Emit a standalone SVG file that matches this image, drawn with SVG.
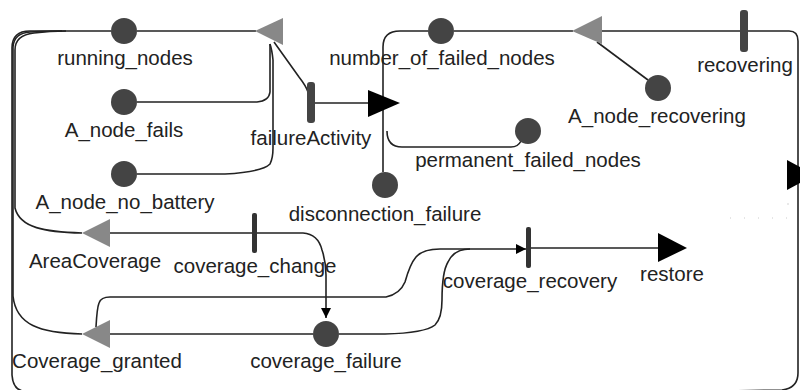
<svg xmlns="http://www.w3.org/2000/svg" width="800" height="390" viewBox="0 0 800 390">
<style>
.bg{fill:#fff}
.c{fill:none;stroke:#222;stroke-width:1.6}
.p{fill:#444}
.t{fill:#444}
.td{fill:#333}
.g{fill:#888}
.b{fill:#000}
text{font-family:"Liberation Sans",Arial,sans-serif;font-size:20.5px;fill:#222;text-anchor:middle}
</style>
<defs>
<marker id="ah" viewBox="0 0 10 10" refX="10" refY="5" markerWidth="10" markerHeight="10" markerUnits="userSpaceOnUse" orient="auto">
<path d="M0,0 L10,5 L0,10 Z" fill="#000"/>
</marker>
</defs>
<rect class="bg" x="0" y="0" width="800" height="390"/>
<g id="connectors">
<!-- outer loop: recovering -> around -> running_nodes -->
<path class="c" d="M749,31 H789 Q798,31 798,41 V373 Q798,388 782,390 L716,391.2 H24 Q13,390 12,375 V48 Q12,31 30,31 H111"/>
<!-- AreaCoverage to top-left -->
<path class="c" d="M82,233 C45,232 20,228 15,208 V50 Q15,35 34,33 Q50,31 66,31"/>
<!-- Coverage_granted to top-left -->
<path class="c" d="M82,334 C40,333 16,325 13,296 V47 Q14,33 30,32 Q48,31 62,31"/>
<!-- running_nodes -> gray triangle -->
<path class="c" d="M137,31 H256"/>
<!-- A_node_fails to triangle -->
<path class="c" d="M137,102 H257 Q269,101 270,92 V44"/>
<!-- A_node_no_battery to triangle -->
<path class="c" d="M137,174 H225 Q262,172 270,164 Q273,158 273,148 V60 Q272,50 270,44"/>
<!-- triangle -> failureActivity -->
<path class="c" d="M274,42 L299,77 Q306,86 308,92"/>
<!-- failureActivity -> black triangle -->
<path class="c" d="M315,103 H369"/>
<!-- vertical from black triangle -->
<path class="c" d="M383,172 V47 Q383,31 400,31 H428"/>
<!-- to permanent_failed_nodes -->
<path class="c" d="M387,131 Q387,147 402,147 H511 Q518,147 521,141"/>
<!-- number_of_failed_nodes -> gray triangle -> recovering -->
<path class="c" d="M454,31 H573"/>
<path class="c" d="M602,31 H749"/>
<!-- gray triangle -> A_node_recovering -->
<path class="c" d="M597,42 L648,80"/>
<!-- AreaCoverage -> coverage_failure -->
<path class="c" d="M110,233 H303 Q318,234 322,250 Q326,262 326,275 V318" marker-end="url(#ah)"/>
<!-- Coverage_granted -> coverage_failure -->
<path class="c" d="M110,334 H313"/>
<!-- Coverage_granted upward loop to coverage_recovery -->
<path class="c" d="M96,327 Q97,308 99,303 Q101,297 110,297 H386 Q400,294 405,282 Q410,264 416,257 Q423,249 440,249 H526" marker-end="url(#ah)"/>
<!-- coverage_failure to coverage_recovery -->
<path class="c" d="M339,334 H385 Q425,333 435,325 Q442,318 442,300 Q442,272 448,262 Q454,249 470,249"/>
<!-- coverage_recovery -> restore -->
<path class="c" d="M531,248 H659"/>
<!-- faint dotted -->
<path d="M730,218 H790" stroke="#ccc" stroke-width="1" stroke-dasharray="1,13" fill="none"/>
<circle cx="788" cy="204" r="0.8" fill="#ccc"/>
</g>
<g id="running_nodes"><circle class="p" cx="124" cy="31" r="13"/><text x="125" y="65">running_nodes</text></g>
<g id="A_node_fails"><circle class="p" cx="124" cy="102" r="13"/><text x="124" y="137">A_node_fails</text></g>
<g id="A_node_no_battery"><circle class="p" cx="124" cy="174" r="13"/><text x="125" y="209">A_node_no_battery</text></g>
<g id="imm_running"><polygon class="g" points="255,31 283,18 283,45"/></g>
<g id="failureActivity"><rect class="t" x="307" y="82" width="8" height="41" rx="3"/><text x="311" y="145">failureActivity</text></g>
<g id="out_failure"><polygon class="b" points="368,90 368,117 400,103"/></g>
<g id="number_of_failed_nodes"><circle class="p" cx="441" cy="31" r="13"/><text x="442" y="65">number_of_failed_nodes</text></g>
<g id="imm_recover"><polygon class="g" points="572,31 602,16 602,44"/></g>
<g id="recovering"><rect class="t" x="740" y="10" width="8" height="42" rx="3"/><text x="745" y="72">recovering</text></g>
<g id="A_node_recovering"><circle class="p" cx="658" cy="88" r="13"/><text x="657" y="123">A_node_recovering</text></g>
<g id="permanent_failed_nodes"><circle class="p" cx="528" cy="131" r="13"/><text x="528" y="167">permanent_failed_nodes</text></g>
<g id="disconnection_failure"><circle class="p" cx="385" cy="185" r="13"/><text x="385" y="221">disconnection_failure</text></g>
<g id="out_right"><polygon class="b" points="787,160 787,190 815,175"/></g>
<g id="AreaCoverage"><polygon class="g" points="82,233 110,219 110,247"/><text x="95" y="268">AreaCoverage</text></g>
<g id="coverage_change"><rect class="td" x="252" y="213" width="5" height="40" rx="2"/><text x="255" y="273">coverage_change</text></g>
<g id="Coverage_granted"><polygon class="g" points="82,334 110,320 110,348"/><text x="97" y="368">Coverage_granted</text></g>
<g id="coverage_failure"><circle class="p" cx="326" cy="334" r="13"/><text x="326" y="368">coverage_failure</text></g>
<g id="coverage_recovery"><rect class="td" x="526" y="227" width="5" height="41" rx="2"/><text x="530" y="288">coverage_recovery</text></g>
<g id="restore"><polygon class="b" points="658,233 658,262 687,248"/><text x="672" y="281">restore</text></g>
</svg>
